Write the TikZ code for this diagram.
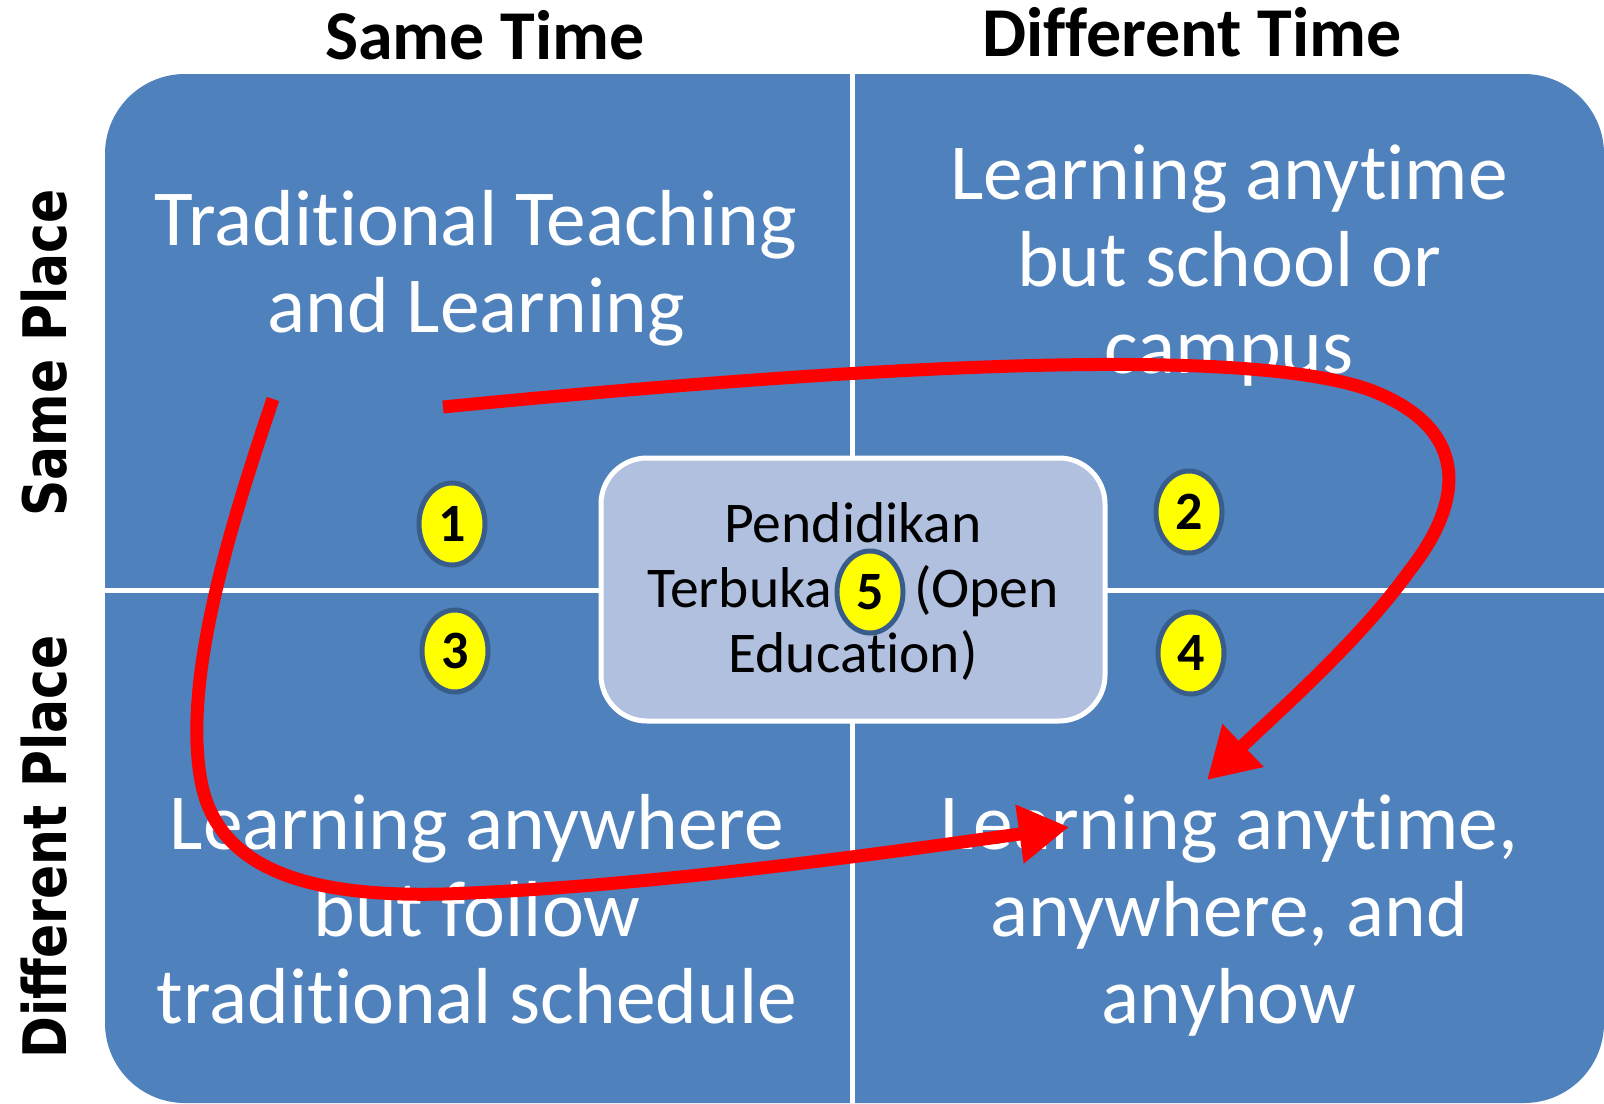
\documentclass[tikz,border=0pt]{standalone}
\usepackage{fontspec}
\setmainfont{Carlito}[Ligatures={NoCommon,NoContextual}]
\newfontfamily\sidefont{DejaVu Sans}[FakeStretch=0.84]
\usetikzlibrary{shapes.geometric,arrows.meta}
\definecolor{quadblue}{HTML}{4F81BD}
\definecolor{boxblue}{HTML}{B0C0DE}
\definecolor{rimblue}{HTML}{385D8A}
\definecolor{arrowred}{HTML}{FF0000}
\definecolor{markyellow}{HTML}{FFFF00}
\begin{document}
\begin{tikzpicture}[x=0.5pt,y=-0.5pt,
  header/.style={font=\fontsize{35}{42}\selectfont\bfseries, anchor=base, inner sep=0pt},
  sidelabel/.style={font=\sidefont\fontsize{30}{34}\selectfont\bfseries, rotate=90, anchor=base, inner sep=0pt},
  quadtext/.style={font=\fontsize{39.7}{43.5}\selectfont, text=white, align=center, anchor=base, inner sep=0pt},
  centertext/.style={font=\fontsize{28.8}{32.5}\selectfont, text=black, align=center, anchor=base, inner sep=0pt},
  marker/.style={ellipse, draw=rimblue, line width=2.5pt, fill=markyellow, minimum width=33pt, minimum height=41pt, inner sep=0pt, font=\fontsize{27}{30}\selectfont\bfseries},
  flow/.style={draw=arrowred, line width=6.5pt, -{Triangle[length=25pt,width=28pt]}},
  divider/.style={white, line width=2.5pt}
]
\useasboundingbox (0,0) rectangle (1604,1103);
% background quadrants
\fill[quadblue, rounded corners=40pt] (105,74) rectangle (1604,1103);
\draw[divider] (852,74) -- (852,1103);
\draw[divider] (105,590) -- (1604,590);
% centre box
\node[draw=white, line width=2.5pt, fill=boxblue, rounded corners=23pt, minimum width=252pt, minimum height=131.5pt, inner sep=0pt] (core) at (853,589.5) {};
% headers
\node[header] (sametime) at (485,59) {Same Time};
\node[header] (difftime) at (1192,56) {Different Time};
\node[sidelabel] (sameplace) at (66,353) {Same Place};
\node[sidelabel] (diffplace) at (66,847) {Different Place};
% quadrant texts (anchor = baseline of last line)
\node[quadtext] (tl) at (476,332) {Traditional Teaching\\and Learning};
\node[quadtext] (tr) at (1229,373) {Learning anytime\\but school or\\campus};
\node[quadtext] (bl) at (477,1023) {Learning anywhere\\but follow\\traditional schedule};
\node[quadtext] (br) at (1229,1023) {Learning anytime,\\anywhere, and\\anyhow};
\node[centertext] (coretext) at (853,672) {Pendidikan\\Terbuka\hspace{41pt}(Open\\Education)};
% markers
\node[marker] (m1) at (452,524) {1};
\node[marker] (m2) at (1189,512) {2};
\node[marker] (m3) at (455,651) {3};
\node[marker] (m4) at (1191,653) {4};
\node[marker] (m5) at (870,592) {5};
% arrows
\coordinate (loopstart) at (273,399);
\coordinate (looptip) at (1069,827);
\coordinate (arcstart) at (443,407);
\coordinate (arctip) at (1207,780);
\draw[flow] (loopstart) .. controls (225,540) and (185,680) .. (200,775)
  .. controls (215,880) and (330,900) .. (470,893)
  .. controls (650,885) and (850,858) .. (looptip);
\draw[flow] (arcstart) .. controls (900,362) and (1250,347) .. (1370,390)
  .. controls (1470,428) and (1465,500) .. (1410,570)
  .. controls (1360,640) and (1280,710) .. (arctip);
\end{tikzpicture}
\end{document}
